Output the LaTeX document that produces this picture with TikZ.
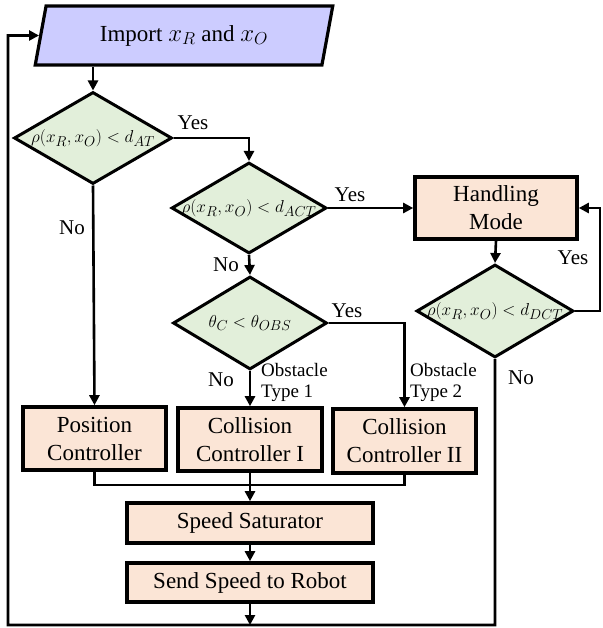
\documentclass[tikz,border=0pt]{standalone}
\usepackage{fontspec}
\setmainfont{Liberation Serif}
\usepackage{tikz}
\usetikzlibrary{shapes.geometric,arrows.meta,positioning}
\definecolor{fcImport}{HTML}{CCCCFF}
\definecolor{fcTest}{HTML}{E2EFDA}
\definecolor{fcBox}{HTML}{FBE5D6}

\begin{document}
\begin{tikzpicture}[x=1pt,y=-1pt,
    bigtxt/.style={font=\rmfamily\fontsize{23}{28}\selectfont},
    io/.style={draw, line width=3.2pt, fill=fcImport, trapezium, trapezium left angle=76, trapezium right angle=104, trapezium stretches=true, minimum width=298pt, minimum height=59pt, bigtxt},
    test/.style={draw, line width=3pt, fill=fcTest, diamond, aspect=1.7, inner xsep=-5pt, inner ysep=0pt, font=\fontsize{19}{21}\selectfont},
    ctrl/.style={draw, line width=3.6pt, fill=fcBox, rectangle, align=center, inner sep=0pt, bigtxt},
    lbl/.style={font=\rmfamily\fontsize{21}{23}\selectfont, inner sep=0pt},
    small/.style={font=\rmfamily\fontsize{19}{21}\selectfont, inner sep=0pt, align=left},
    line/.style={line width=2.6pt},
    arr/.style={line width=2.6pt, -{Triangle[length=10pt,width=10pt]}}]
    \useasboundingbox (0,0) rectangle (602,628);

    % Input
    \node[io] at (184,35.5) (import) {Import $x_R$ and $x_O$};

    % Decisions
    \node[test, minimum width=158pt, minimum height=92pt] at (93,138) (at) {$\rho(x_R,x_O) < d_{AT}$};
    \node[test, minimum width=155pt, minimum height=91pt] at (249,208) (act) {$\rho(x_R,x_O) < d_{ACT}$};
    \node[test, minimum width=154pt, minimum height=93pt] at (250,323) (obs) {$\theta_C < \theta_{OBS}$};
    \node[test, minimum width=157pt, minimum height=93pt] at (495,311) (dct) {$\rho(x_R,x_O) < d_{DCT}$};

    % Handling and controllers
    \node[ctrl, minimum width=162pt, minimum height=62pt] at (496,208) (hand) {Handling\\Mode};
    \node[ctrl, minimum width=143pt, minimum height=63pt] at (94.5,438.5) (pos) {Position\\Controller};
    \node[ctrl, minimum width=144pt, minimum height=63pt] at (250,439.5) (col1) {Collision\\Controller I};
    \node[ctrl, minimum width=143pt, minimum height=64pt] at (404.5,441) (col2) {Collision\\Controller II};
    \node[ctrl, minimum width=246pt, minimum height=40pt] at (250,523) (sat) {Speed Saturator};
    \node[ctrl, minimum width=246pt, minimum height=39pt] at (250,582.5) (send) {Send Speed to Robot};

    % Labels
    \node[lbl] at (193,123) (yesAT) {Yes};
    \node[lbl] at (72,228) (noAT) {No};
    \node[lbl] at (350,195) (yesACT) {Yes};
    \node[lbl] at (226,265) (noACT) {No};
    \node[lbl] at (347,311) (yesOBS) {Yes};
    \node[lbl] at (221,380) (noOBS) {No};
    \node[lbl] at (573,258) (yesDCT) {Yes};
    \node[lbl] at (521,378) (noDCT) {No};
    \node[small, anchor=west] at (261,382) (type1) {Obstacle\\Type 1};
    \node[small, anchor=west] at (410,382) (type2) {Obstacle\\Type 2};

    % Helper points
    \coordinate (mrg) at (0,485);
    \coordinate (rloop) at (600,311);
    \coordinate (retL) at (8,625);

    % Arrows
    \draw[arr] (at.north |- import.south) -- (at.north);
    \draw[arr] (at.east) -| (act.north);
    \draw[arr] (act.east) -- (hand.west);
    \draw[arr] (act.south) -- (obs.north);
    \draw[arr] (at.south) -- (pos.north);
    \draw[arr] (obs.south) -- (col1.north);
    \draw[arr] (obs.east) -| (col2.north);
    \draw[arr] (hand.south) -- (dct.north);
    \draw[arr] (dct.east) -- (rloop) |- (hand.east);
    \draw[line] (pos.south) -- (pos.south |- mrg) -| (col2.south);
    \draw[arr] (col1.south) -- (sat.north);
    \draw[arr] (sat.south) -- (send.north);
    \draw[arr] (send.south) -- (send.south |- retL);
    \draw[arr] (dct.south) -- (dct.south |- retL) -- (retL) -- (retL |- import) -- (import);
\end{tikzpicture}
\end{document}
